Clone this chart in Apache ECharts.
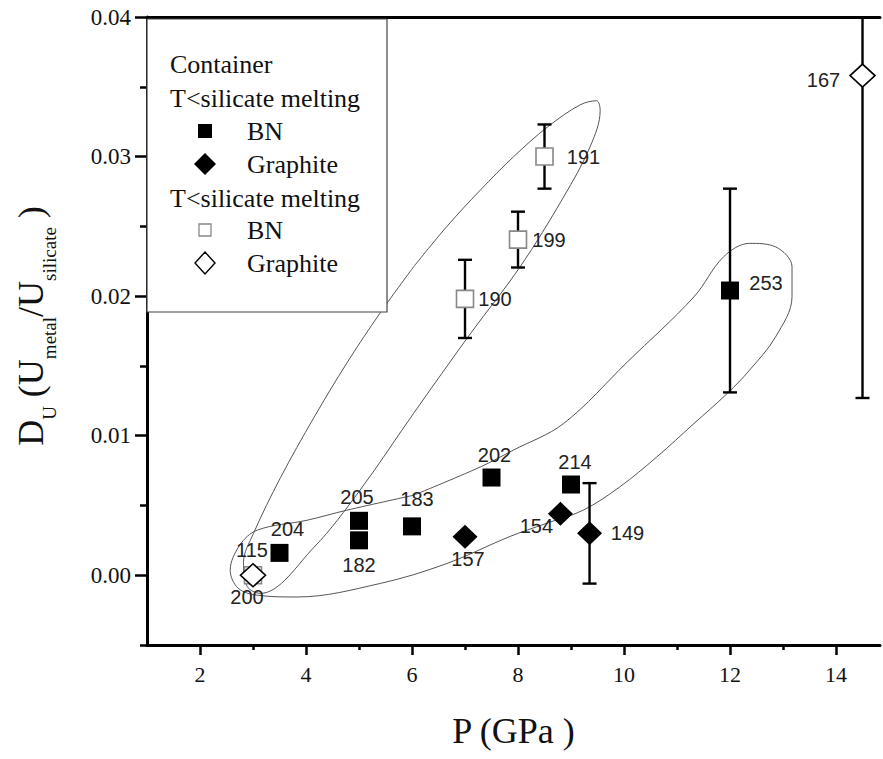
<!DOCTYPE html>
<html>
<head>
<meta charset="utf-8">
<script src="https://cdn.jsdelivr.net/npm/echarts@6/dist/echarts.min.js"></script>
<style>
html,body{margin:0;padding:0;background:#fff;}
#main{width:883px;height:759px;}
</style>
</head>
<body>
<div id="main"></div>
<script>
// ---- data ----
// T<silicate melting, BN container (filled squares)
const bnFilled = [[3.5,0.0016],[5,0.0039],[5,0.0025],[6,0.0035],[7.5,0.0070],[9,0.0065],[12,0.0204]];
const bnFilledIds = ['204','205','182','183','202','214','253'];
// T<silicate melting, graphite container (filled diamonds)
const grFilled = [[7,0.00275],[8.8,0.0044],[9.35,0.0030]];
const grFilledIds = ['157','154','149'];
// second group, BN (open squares)
const bnOpen = [[3,0.0],[7,0.0198],[8,0.02405],[8.5,0.0300]];
const bnOpenIds = ['115','190','199','191'];
// second group, graphite (open diamonds)
const grOpen = [[3,0.0],[14.5,0.0358]];
const grOpenIds = ['200','167'];
// error bars: [P, D, half-width]
const errBars = [[12,0.0204,0.0073],[9.35,0.0030,0.0036],[7,0.0198,0.0028],[8,0.02405,0.0020],
                 [8.5,0.0300,0.0023],[14.5,0.0358,0.0231],[3,0.0,0.0004],[3,0.0,0.0]];
// outline of the two hand drawn groupings
const loopUpper = [[6.03,0.0221],[5.40,0.0188],[4.77,0.0152],[4.15,0.0113],[3.52,0.0070],[3.01,0.0030],
                   [2.82,0.0009],[2.89,-0.0008],[3.14,-0.0013],[4.15,0.0020],[5.02,0.0061],[6.03,0.0116],
                   [7.10,0.0173],[8.04,0.0221],[8.86,0.0271],[9.36,0.0307],[9.55,0.0333],[9.48,0.0340],
                   [9.17,0.0337],[8.55,0.0321],[7.92,0.0300],[7.29,0.0276],[6.66,0.0250],[6.03,0.0221]];
const loopLower = [[6.03,0.00573],[7.29,0.00776],[7.91,0.00896],[8.86,0.01087],[10.06,0.01527],[11.32,0.01995],
                   [11.88,0.02282],[12.37,0.02378],[12.86,0.02353],[13.17,0.02210],[13.17,0.01995],[12.86,0.01708],
                   [12.37,0.01470],[11.95,0.01303],[11.32,0.01087],[10.62,0.00848],[9.92,0.00633],[9.23,0.00466],
                   [8.53,0.00371],[7.83,0.00275],[6.66,0.00084],[5.40,-0.00059],[3.83,-0.00156],[3.08,-0.00143],
                   [2.72,-0.00093],[2.57,0.00036],[2.75,0.00215],[3.08,0.00323],[4.02,0.00394],[4.77,0.00466],
                   [6.03,0.00573]];
// axis ticks
const xMajor = [2,4,6,8,10,12,14];
const xMinor = [3,5,7,9,11,13];
const yMajor = [0,0.01,0.02,0.03,0.04];
const yMinor = [-0.005,0.005,0.015,0.025,0.035];

// label offsets (px) relative to the marker
const labelOffset = {
  '204':[8,-24], '205':[-2,-24], '182':[0,25], '183':[5,-27], '202':[3,-23], '214':[4,-23],
  '253':[36,-8], '157':[3,22], '154':[-24,12], '149':[38,0], '115':[-1,-25], '190':[30,0],
  '199':[31,0], '191':[39,0], '200':[-6,22], '167':[-39,4]
};

const serif = 'Liberation Serif';
const chart = echarts.init(document.getElementById('main'), null, {renderer:'svg'});

function points(xy, ids){
    return xy.map((p,i)=>({
        value:p,
        label:{formatter:ids[i], offset:labelOffset[ids[i]]}
    }));
}
const ptLabel = {show:true, position:'inside', fontFamily:'Liberation Sans', fontSize:20, color:'#222'};

function loop(data){
    return {
        type:'line', data:data, smooth:0.35, showSymbol:false, silent:true, z:1,
        lineStyle:{color:'#555', width:1}
    };
}

function legendText(x, y, text){
    return {type:'text', z:101, x:x, y:y,
            style:{text:text, fontFamily:serif, fontSize:26, fill:'#111', verticalAlign:'middle'}};
}

const option = {
    animation:false,
    backgroundColor:'#fff',
    grid:{left:147, right:3, top:17, bottom:114},
    xAxis:[{
        type:'value', min:1, max:14.83, position:'bottom',
        axisLine:{onZero:false, lineStyle:{color:'#000', width:3}},
        axisTick:{customValues:xMajor, length:10, lineStyle:{width:2.5, color:'#000'}},
        axisLabel:{customValues:xMajor, margin:18, fontFamily:serif, fontSize:22, color:'#111'},
        splitLine:{show:false},
        name:'P (GPa )', nameLocation:'middle', nameGap:68,
        nameTextStyle:{fontFamily:serif, fontSize:36, color:'#111'}
    },{
        type:'value', min:1, max:14.83, position:'bottom',
        axisLine:{show:false, onZero:false},
        axisTick:{customValues:xMinor, length:5, lineStyle:{width:2.5, color:'#000'}},
        axisLabel:{show:false}, splitLine:{show:false}
    },{
        type:'value', min:1, max:14.83, position:'top',
        axisLine:{onZero:false, lineStyle:{color:'#000', width:3}},
        axisTick:{show:false}, axisLabel:{show:false}, splitLine:{show:false}
    }],
    yAxis:[{
        type:'value', min:-0.005, max:0.04, position:'left',
        axisLine:{onZero:false, lineStyle:{color:'#000', width:3}},
        axisTick:{customValues:yMajor, length:12, lineStyle:{width:2.5, color:'#000'}},
        axisLabel:{customValues:yMajor, margin:16, fontFamily:serif, fontSize:23, color:'#111',
                   formatter:(v)=>v.toFixed(2)},
        splitLine:{show:false}
    },{
        type:'value', min:-0.005, max:0.04, position:'left',
        axisLine:{show:false, onZero:false},
        axisTick:{customValues:yMinor, length:7, lineStyle:{width:2.5, color:'#000'}},
        axisLabel:{show:false}, splitLine:{show:false}
    }],
    series:[
        loop(loopUpper),
        loop(loopLower),
        {
            type:'custom', data:errBars, z:2, silent:true,
            renderItem:(params, api)=>{
                const x = api.value(0), y = api.value(1), e = api.value(2);
                const cs = params.coordSys;
                let top = api.coord([x, y+e]);
                const bot = api.coord([x, y-e]);
                const cap = 7;
                const st = {stroke:'#000', lineWidth:2.4};
                const kids = [];
                let topCap = true;
                if(top[1] < cs.y){ top = [top[0], cs.y]; topCap = false; }
                kids.push({type:'line', shape:{x1:top[0], y1:top[1], x2:bot[0], y2:bot[1]}, style:st});
                if(topCap) kids.push({type:'line', shape:{x1:top[0]-cap, y1:top[1], x2:top[0]+cap, y2:top[1]}, style:st});
                kids.push({type:'line', shape:{x1:bot[0]-cap, y1:bot[1], x2:bot[0]+cap, y2:bot[1]}, style:st});
                return {type:'group', children:kids};
            }
        },
        {
            name:'BN', type:'scatter', symbol:'rect', symbolSize:18, z:3,
            itemStyle:{color:'#000', opacity:1}, label:ptLabel, data:points(bnFilled, bnFilledIds)
        },
        {
            name:'Graphite', type:'scatter', symbol:'diamond', symbolSize:[25,24], z:3,
            itemStyle:{color:'#000', opacity:1}, label:ptLabel, data:points(grFilled, grFilledIds)
        },
        {
            name:'BN open', type:'scatter', symbol:'rect', symbolSize:17, z:3,
            itemStyle:{color:'#fff', borderColor:'#888', borderWidth:1.6, opacity:1}, label:ptLabel,
            data:points(bnOpen, bnOpenIds)
        },
        {
            name:'Graphite open', type:'scatter', symbol:'diamond', symbolSize:[25,23], z:3,
            itemStyle:{color:'#fff', borderColor:'#000', borderWidth:1.6, opacity:1}, label:ptLabel,
            data:points(grOpen, grOpenIds)
        }
    ],
    graphic:[
        // legend box
        {type:'rect', z:100, shape:{x:147, y:19, width:240, height:293},
         style:{fill:'#fff', stroke:'#444', lineWidth:1.2}},
        legendText(170, 64, 'Container'),
        legendText(170, 98, 'T<silicate melting'),
        {type:'rect', z:101, shape:{x:198, y:124, width:14, height:14}, style:{fill:'#000'}},
        legendText(247, 131, 'BN'),
        {type:'polygon', z:101, shape:{points:[[205,153],[216,164],[205,175],[194,164]]}, style:{fill:'#000'}},
        legendText(247, 164, 'Graphite'),
        legendText(170, 198, 'T<silicate melting'),
        {type:'rect', z:101, shape:{x:199, y:224, width:12, height:12}, style:{fill:'#fff', stroke:'#888', lineWidth:1.3}},
        legendText(247, 230, 'BN'),
        {type:'polygon', z:101, shape:{points:[[205,252],[215,263],[205,274],[195,263]]}, style:{fill:'#fff', stroke:'#000', lineWidth:1.4}},
        legendText(247, 263, 'Graphite'),
        // y axis title
        {type:'text', z:101, x:36, y:326, rotation:Math.PI/2,
         style:{
            text:'{m|D}{s|U}{m| (U}{s|metal}{m|/U}{s|silicate}{m| )}',
            align:'center', verticalAlign:'middle', fill:'#111',
            rich:{
                m:{fontFamily:serif, fontSize:36, lineHeight:46, verticalAlign:'top', fill:'#111'},
                s:{fontFamily:serif, fontSize:19, lineHeight:19, verticalAlign:'bottom', fill:'#111'}
            }
         }}
    ]
};
chart.setOption(option);
</script>
</body>
</html>
